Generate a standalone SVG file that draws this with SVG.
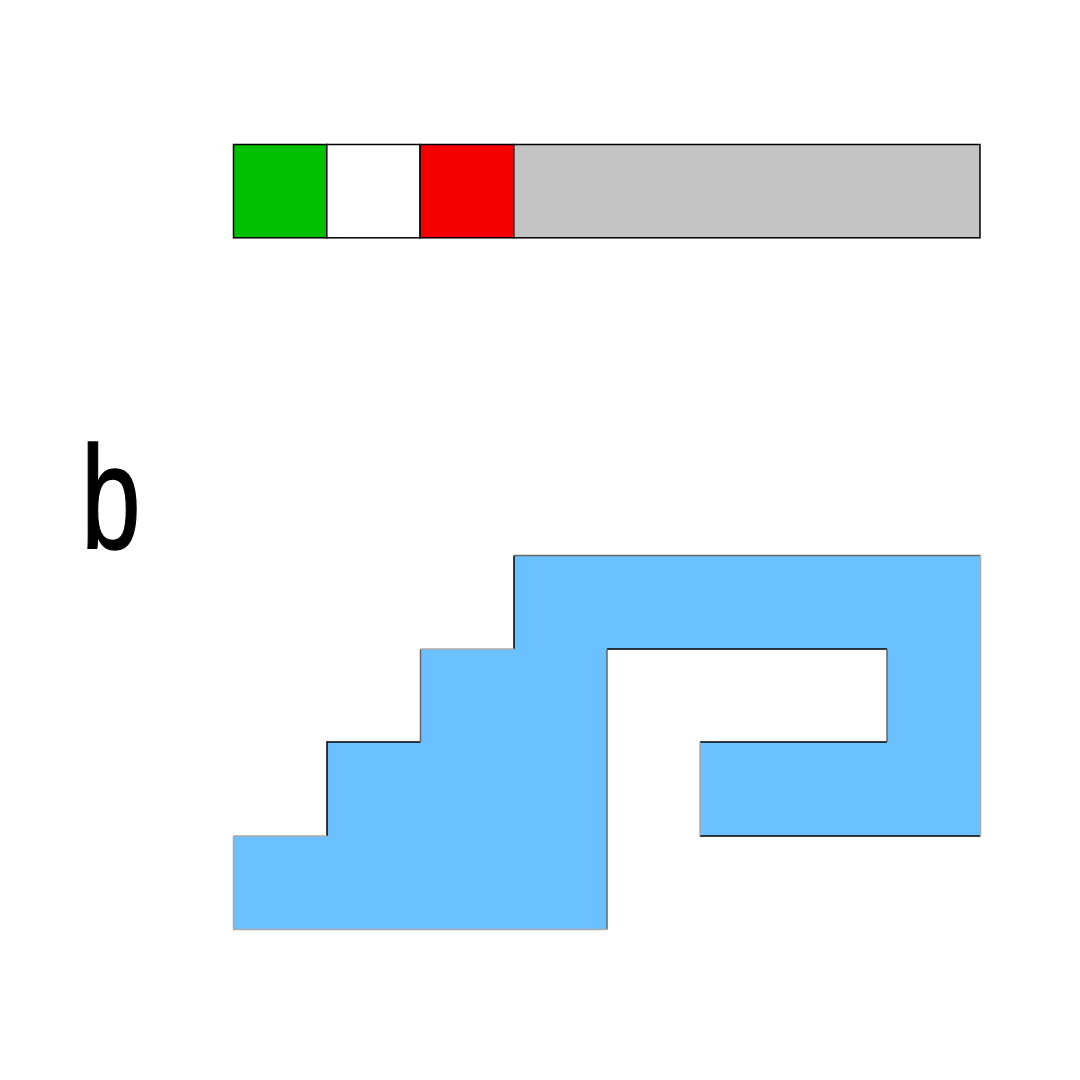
<svg xmlns="http://www.w3.org/2000/svg" width="1080" height="1080" viewBox="0 0 1080 1080">
<style>
.cell{stroke:#000;stroke-width:1.5}
.blk{stroke:#000;stroke-width:1.5;fill:none}
.mid{stroke:#666;stroke-width:1.5;fill:none}
.lt{stroke:#aaa;stroke-width:1.5;fill:none}
.lbl{font-family:"Liberation Sans",Arial,sans-serif;font-size:147px;fill:#000;stroke:#000;stroke-width:1.5}
</style>
<rect width="1080" height="1080" fill="#fff"/>
<g id="bar">
<rect class="cell" x="233.5" y="144.5" width="93.3" height="93.3" fill="#00C000"/>
<rect class="cell" x="326.8" y="144.5" width="93.3" height="93.3" fill="#fff"/>
<rect class="cell" x="420.1" y="144.5" width="93.7" height="93.3" fill="#F50000"/>
<rect class="cell" x="513.8" y="144.5" width="466.2" height="93.3" fill="#C4C4C4"/>
</g>
<g id="label-b"><text class="lbl" transform="translate(81,548) scale(0.73,1)">b</text></g>
<g id="shape">
<path d="M514,555.5 H980.5 V836 H700 V742 H887 V649 H607 V929.5 H233.5 V836 H327 V742 H420.5 V649 H514 Z" fill="#6BC1FF"/>
<path class="blk" d="M514,649 V555.5 M327,836 V742 H420.5 M607,649 H887 M700,742 H887 M700,836 H980.5"/>
<path class="mid" d="M514,555.5 H980.5 M607,649 V929.5 M420.5,742 V649 M887,649 V742"/>
<path class="lt" d="M420.5,649 H514 M233.5,836 H327 M233.5,836 V929.5 H607 M980.5,555.5 V836 M700,742 V836"/>
</g>
</svg>
